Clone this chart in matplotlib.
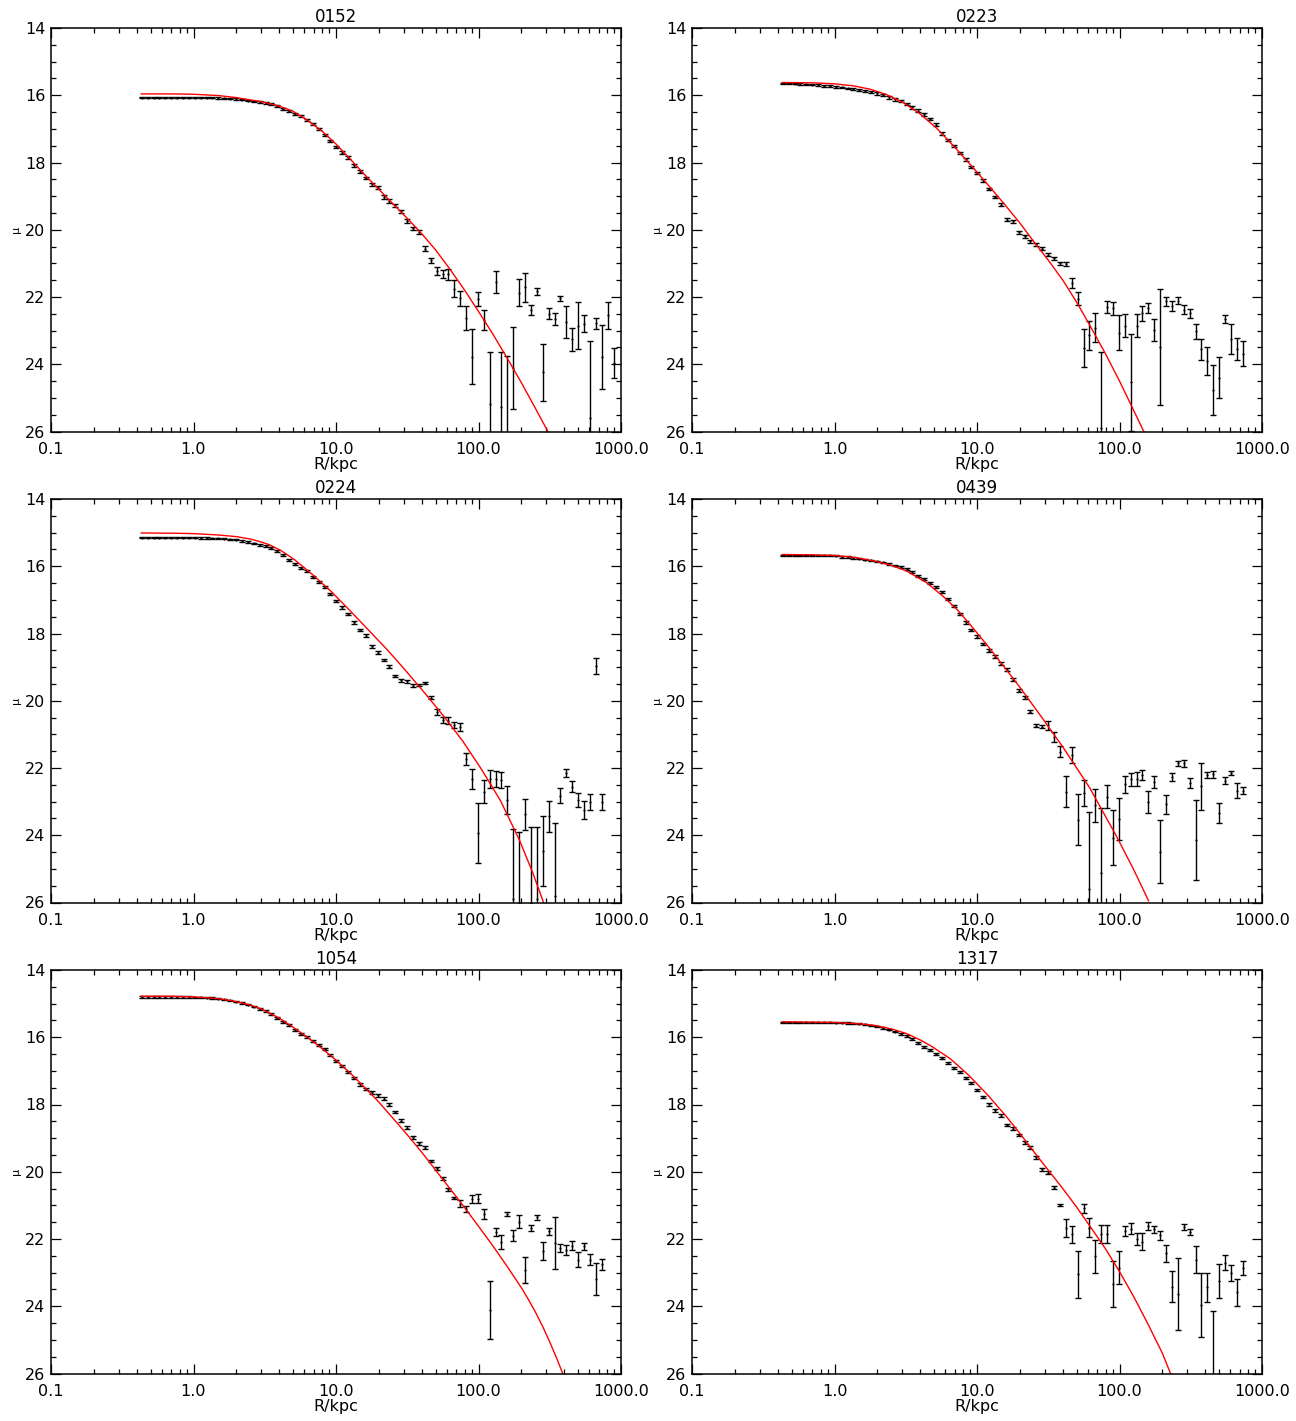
import matplotlib
matplotlib.use('Agg')
import matplotlib.pyplot as plt
from matplotlib.ticker import MultipleLocator, LogLocator, NullFormatter

plt.rcParams['font.family'] = ['DejaVu Sans']

# isophote radii (kpc), shared by all galaxies
radius = [0.433, 0.476, 0.524, 0.576, 0.634, 0.697, 0.767, 0.844, 0.928, 1.021,
          1.123, 1.235, 1.359, 1.495, 1.644, 1.809, 1.990, 2.189, 2.407, 2.648,
          2.913, 3.204, 3.525, 3.877, 4.265, 4.691, 5.160, 5.676, 6.244, 6.869,
          7.555, 8.311, 9.142, 10.06, 11.06, 12.17, 13.39, 14.72, 16.20, 17.82,
          19.60, 21.56, 23.71, 26.08, 28.69, 31.56, 34.72, 38.19, 42.01, 46.21,
          50.83, 55.91, 61.50, 67.65, 74.42, 81.86, 90.05, 99.05, 109.0, 119.9,
          131.8, 145.0, 159.5, 175.5, 193.0, 212.3, 233.6, 256.9, 282.6, 310.9,
          342.0, 376.2, 413.8, 455.1, 500.7, 550.7, 605.8, 666.4, 733.0, 806.3,
          886.9]

names = ['0152', '0223', '0224', '0439', '1054', '1317']

mu_0152 = [16.07, 16.07, 16.07, 16.07, 16.07, 16.07, 16.07, 16.07, 16.07, 16.07,
           16.07, 16.07, 16.07, 16.08, 16.09, 16.10, 16.11, 16.13, 16.16, 16.18,
           16.20, 16.23, 16.27, 16.32, 16.41, 16.47, 16.55, 16.63, 16.75, 16.86,
           17.01, 17.19, 17.36, 17.54, 17.71, 17.85, 18.08, 18.27, 18.46, 18.65,
           18.75, 19.03, 19.14, 19.27, 19.45, 19.74, 19.96, 20.07, 20.56, 20.91,
           21.23, 21.32, 21.32, 21.75, 22.04, 22.63, 23.77, 22.06, 22.68, 25.18,
           21.56, 25.28, 26.10, 24.12, 21.87, 21.71, 22.39, 21.83, 24.24, 22.50,
           22.65, 22.04, 22.75, 23.26, 22.85, 22.79, 25.60, 22.78, 23.79, 22.54,
           23.97]
err_0152 = [0.02] * 21 + [0.03] * 13 + [0.04] * 7 + [0.05] * 7 + \
           [0.07, 0.08, 0.11, 0.12, 0.16, 0.25, 0.22, 0.35, 0.82, 0.20,
            0.30, 1.54, 0.33, 1.64, 2.36, 1.22, 0.40, 0.43, 0.15, 0.11,
            0.84, 0.16, 0.18, 0.07, 0.48, 0.35, 0.70, 0.24, 2.30, 0.16,
            0.95, 0.40, 0.45]

mu_0223 = [15.65, 15.65, 15.66, 15.67, 15.68, 15.69, 15.70, 15.72, 15.73, 15.75,
           15.76, 15.79, 15.81, 15.84, 15.87, 15.90, 15.94, 15.99, 16.06, 16.12,
           16.17, 16.26, 16.36, 16.46, 16.57, 16.71, 16.88, 17.13, 17.33, 17.51,
           17.72, 17.91, 18.13, 18.31, 18.53, 18.79, 19.03, 19.25, 19.70, 19.75,
           20.08, 20.20, 20.34, 20.43, 20.56, 20.74, 20.85, 21.00, 21.02, 21.59,
           22.05, 23.52, 23.14, 22.91, 25.90, 22.31, 22.34, 23.06, 22.85, 24.54,
           22.85, 22.48, 22.33, 22.98, 23.49, 22.13, 22.28, 22.11, 22.38, 22.48,
           23.02, 23.56, 23.90, 24.76, 24.40, 22.65, 23.25, 23.54, 23.69]
err_0223 = [0.02] * 16 + [0.04] * 22 + [0.05] * 11 + \
           [0.15, 0.19, 0.56, 0.44, 0.42, 2.25, 0.18, 0.19, 0.51, 0.33,
            1.44, 0.33, 0.22, 0.15, 0.33, 1.73, 0.13, 0.15, 0.11, 0.14,
            0.13, 0.22, 0.32, 0.42, 0.74, 0.61, 0.12, 0.44, 0.32, 0.37]

mu_0224 = [15.15, 15.15, 15.15, 15.15, 15.15, 15.15, 15.15, 15.15, 15.15, 15.15,
           15.16, 15.16, 15.17, 15.17, 15.18, 15.20, 15.21, 15.25, 15.28, 15.32,
           15.37, 15.41, 15.47, 15.55, 15.66, 15.80, 15.92, 16.04, 16.15, 16.32,
           16.48, 16.63, 16.83, 17.03, 17.22, 17.42, 17.67, 17.90, 18.06, 18.38,
           18.57, 18.79, 18.99, 19.26, 19.39, 19.42, 19.55, 19.53, 19.47, 19.91,
           20.33, 20.57, 20.59, 20.72, 20.78, 21.73, 22.33, 23.94, 22.70, 22.32,
           22.33, 22.35, 22.95, 25.90, 26.00, 23.38, 26.00, 25.90, 24.46, 23.44,
           25.80, 22.82, 22.14, 22.56, 22.95, 23.25, 23.01, 18.97, 23.01]
err_0224 = [0.02] * 20 + [0.03] * 13 + [0.04] * 17 + \
           [0.08, 0.08, 0.10, 0.10, 0.13, 0.18, 0.29, 0.89, 0.35, 0.26,
            0.24, 0.23, 0.41, 2.10, 2.10, 0.47, 2.25, 2.15, 1.04, 0.46,
            2.15, 0.23, 0.12, 0.16, 0.22, 0.28, 0.23, 0.23, 0.25]

mu_0439 = [15.68, 15.68, 15.68, 15.68, 15.68, 15.68, 15.68, 15.68, 15.68, 15.69,
           15.72, 15.73, 15.75, 15.77, 15.80, 15.82, 15.85, 15.88, 15.93, 15.98,
           16.03, 16.09, 16.17, 16.28, 16.39, 16.49, 16.62, 16.78, 16.96, 17.19,
           17.43, 17.67, 17.90, 18.09, 18.31, 18.51, 18.69, 18.90, 19.08, 19.37,
           19.70, 19.90, 20.32, 20.74, 20.77, 20.73, 21.07, 21.51, 22.71, 21.61,
           23.54, 22.75, 25.60, 23.11, 25.13, 22.86, 24.07, 23.52, 22.49, 22.34,
           22.33, 22.21, 23.00, 22.42, 24.49, 23.08, 22.27, 21.86, 21.86, 22.45,
           24.14, 22.55, 22.21, 22.19, 23.35, 22.38, 22.15, 22.68, 22.67]
err_0439 = [0.02] * 20 + [0.03] * 11 + [0.04] * 14 + \
           [0.14, 0.15, 0.15, 0.46, 0.23, 0.76, 0.38, 2.30, 0.50, 1.93,
            0.34, 0.81, 0.63, 0.25, 0.20, 0.20, 0.15, 0.33, 0.18, 0.93,
            0.29, 0.13, 0.07, 0.10, 0.14, 1.19, 0.69, 0.10, 0.10, 0.30,
            0.10, 0.07, 0.22, 0.10]

mu_1054 = [14.80, 14.80, 14.80, 14.80, 14.80, 14.80, 14.80, 14.80, 14.80, 14.81,
           14.81, 14.82, 14.83, 14.85, 14.87, 14.90, 14.94, 14.98, 15.03, 15.09,
           15.16, 15.23, 15.32, 15.43, 15.55, 15.65, 15.77, 15.89, 16.00, 16.12,
           16.23, 16.36, 16.52, 16.72, 16.86, 17.02, 17.20, 17.40, 17.54, 17.64,
           17.73, 17.83, 18.01, 18.22, 18.48, 18.69, 18.98, 19.15, 19.28, 19.68,
           19.90, 20.21, 20.52, 20.78, 20.95, 21.11, 20.80, 20.80, 21.27, 24.11,
           21.80, 22.08, 21.26, 21.90, 21.48, 22.93, 21.66, 21.36, 22.35, 21.77,
           22.13, 22.26, 22.34, 22.20, 22.61, 22.22, 22.61, 23.19, 22.75]
err_1054 = [0.02] * 20 + [0.03] * 17 + [0.04] * 17 + \
           [0.10, 0.10, 0.12, 0.13, 0.15, 0.86, 0.12, 0.21, 0.07, 0.16,
            0.20, 0.38, 0.09, 0.07, 0.26, 0.10, 0.77, 0.12, 0.15, 0.14,
            0.23, 0.10, 0.15, 0.48, 0.16]

mu_1317 = [15.56, 15.56, 15.56, 15.56, 15.56, 15.56, 15.56, 15.56, 15.56, 15.57,
           15.57, 15.58, 15.59, 15.60, 15.62, 15.65, 15.68, 15.73, 15.77, 15.83,
           15.89, 15.97, 16.06, 16.16, 16.28, 16.39, 16.50, 16.62, 16.76, 16.90,
           17.04, 17.20, 17.37, 17.57, 17.78, 17.99, 18.17, 18.33, 18.61, 18.72,
           18.91, 19.13, 19.28, 19.57, 19.93, 20.03, 20.47, 20.99, 21.68, 21.86,
           23.05, 21.09, 21.66, 22.52, 21.86, 21.86, 23.34, 22.85, 21.76, 21.69,
           21.99, 22.08, 21.61, 21.71, 21.89, 22.43, 23.42, 23.64, 21.65, 21.79,
           22.62, 23.96, 23.44, 26.10, 23.25, 22.70, 23.01, 23.59, 22.86]
err_1317 = [0.02] * 20 + [0.03] * 15 + [0.04] * 13 + \
           [0.27, 0.26, 0.69, 0.14, 0.27, 0.50, 0.27, 0.27, 0.69, 0.48,
            0.16, 0.16, 0.18, 0.25, 0.11, 0.11, 0.14, 0.25, 0.46, 1.08,
            0.09, 0.09, 0.40, 0.96, 0.42, 1.95, 0.50, 0.21, 0.25, 0.40,
            0.21]

# fitted model profiles (red)
fit_r_0152 = [0.43, 0.7, 1.0, 1.5, 2.0, 3.0, 4.0, 5.0, 6.3, 8.0, 10, 12.6,
              15.8, 20, 25, 31.6, 40, 50, 63, 80, 100, 126, 158, 200, 250, 316]
fit_mu_0152 = [15.96, 15.96, 15.97, 16.01, 16.07, 16.19, 16.32, 16.48, 16.74,
               17.07, 17.45, 17.90, 18.35, 18.80, 19.22, 19.66, 20.12, 20.60,
               21.17, 21.80, 22.43, 23.10, 23.80, 24.55, 25.30, 26.10]
fit_r_0223 = [0.43, 0.7, 1.0, 1.36, 1.78, 2.32, 3.04, 3.98, 5.21, 6.82, 8.93,
              11.7, 15.3, 20, 25, 31.6, 40, 50, 63, 80, 100, 126, 150]
fit_mu_0223 = [15.62, 15.63, 15.66, 15.72, 15.82, 15.98, 16.22, 16.55, 16.98,
               17.50, 18.05, 18.62, 19.20, 19.80, 20.35, 20.90, 21.50, 22.15,
               22.90, 23.70, 24.50, 25.38, 26.05]
fit_r_0224 = [0.43, 0.8, 1.0, 1.5, 2.0, 2.5, 3.0, 3.4, 4.1, 5.1, 6.9, 9.3,
              12.6, 17.1, 23.2, 31.5, 42.5, 57.5, 77.8, 105, 143, 194, 239, 286]
fit_mu_0224 = [15.01, 15.02, 15.03, 15.07, 15.12, 15.19, 15.28, 15.36, 15.53,
               15.80, 16.26, 16.76, 17.33, 17.92, 18.51, 19.15, 19.80, 20.48,
               21.21, 22.04, 22.98, 24.15, 25.09, 26.00]
fit_r_0439 = [0.43, 0.7, 1.0, 1.4, 1.93, 2.5, 3.2, 4.4, 5.8, 7.3, 9.3, 11.9,
              15.3, 20, 28, 40.4, 62, 95.5, 125, 160]
fit_mu_0439 = [15.65, 15.66, 15.68, 15.74, 15.85, 15.97, 16.14, 16.48, 16.90,
               17.30, 17.82, 18.37, 18.96, 19.60, 20.45, 21.40, 22.60, 24.04,
               25.00, 25.95]
fit_r_1054 = [0.43, 0.7, 1.0, 1.5, 2.0, 2.5, 3.0, 4.0, 5.0, 6.3, 8, 10, 12.6,
              15.8, 20, 25, 31.6, 40, 50, 63, 80, 100, 126, 158, 200, 224,
              250, 282, 316, 350, 390]
fit_mu_1054 = [14.78, 14.78, 14.80, 14.85, 14.94, 15.04, 15.16, 15.43, 15.70,
               16.00, 16.34, 16.68, 17.07, 17.48, 17.93, 18.40, 18.90, 19.42,
               19.95, 20.50, 21.07, 21.62, 22.20, 22.80, 23.45, 23.80, 24.16,
               24.60, 25.06, 25.50, 26.00]
fit_r_1317 = [0.43, 1.0, 1.5, 1.93, 2.5, 3.2, 4.0, 4.8, 6.5, 8.8, 11.9, 15.8,
              20, 25, 31.6, 40, 50, 63, 80, 100, 126, 158, 200, 228]
fit_mu_1317 = [15.54, 15.56, 15.60, 15.65, 15.75, 15.89, 16.08, 16.27, 16.64,
               17.14, 17.72, 18.32, 18.86, 19.40, 19.95, 20.50, 21.05, 21.66,
               22.30, 22.97, 23.72, 24.52, 25.40, 26.00]

profiles = [
    (mu_0152, err_0152, fit_r_0152, fit_mu_0152),
    (mu_0223, err_0223, fit_r_0223, fit_mu_0223),
    (mu_0224, err_0224, fit_r_0224, fit_mu_0224),
    (mu_0439, err_0439, fit_r_0439, fit_mu_0439),
    (mu_1054, err_1054, fit_r_1054, fit_mu_1054),
    (mu_1317, err_1317, fit_r_1317, fit_mu_1317),
]

W, H = 1296, 1421
fig = plt.figure(figsize=(W / 100, H / 100), dpi=100)

col_left = [51, 692]
row_top = [28, 499, 970]
ax_w, ax_h = 570, 403.5

for k, name in enumerate(names):
    mu, err, fr, fm = profiles[k]
    n = len(mu)
    x0 = col_left[k % 2]
    y0 = row_top[k // 2]
    ax = fig.add_axes([x0 / W, 1 - (y0 + ax_h) / H, ax_w / W, ax_h / H])

    r = radius[:n]
    ax.errorbar(r, mu, yerr=err[:n], fmt='none', ecolor='black',
                elinewidth=1.0, capsize=2.3, capthick=1.0)
    ax.plot(r, mu, '.', color='black', ms=1.2)
    ax.plot(fr, fm, color='red', lw=1.0)

    ax.set_xscale('log')
    ax.set_xlim(0.1, 1000)
    ax.set_ylim(26, 14)
    ax.set_xticks([0.1, 1, 10, 100, 1000])
    ax.set_xticklabels(['0.1', '1.0', '10.0', '100.0', '1000.0'])
    ax.xaxis.set_minor_locator(LogLocator(base=10, subs=range(2, 10)))
    ax.xaxis.set_minor_formatter(NullFormatter())
    ax.yaxis.set_major_locator(MultipleLocator(2))
    ax.yaxis.set_minor_locator(MultipleLocator(0.5))

    ax.tick_params(which='both', direction='in', top=True, right=True,
                   labelsize=11.5, width=0.9)
    ax.tick_params(which='major', length=7, pad=7.5)
    ax.tick_params(which='minor', length=3.5)
    ax.tick_params(axis='y', which='major', pad=4)
    for s in ax.spines.values():
        s.set_linewidth(1.1)

    ax.set_title(name, fontsize=12, pad=4)
    ax.set_xlabel('R/kpc', fontsize=11.5, labelpad=0)
    ax.set_ylabel('\u03bc', fontsize=8, labelpad=3)

fig.savefig('out.png', dpi=100)
